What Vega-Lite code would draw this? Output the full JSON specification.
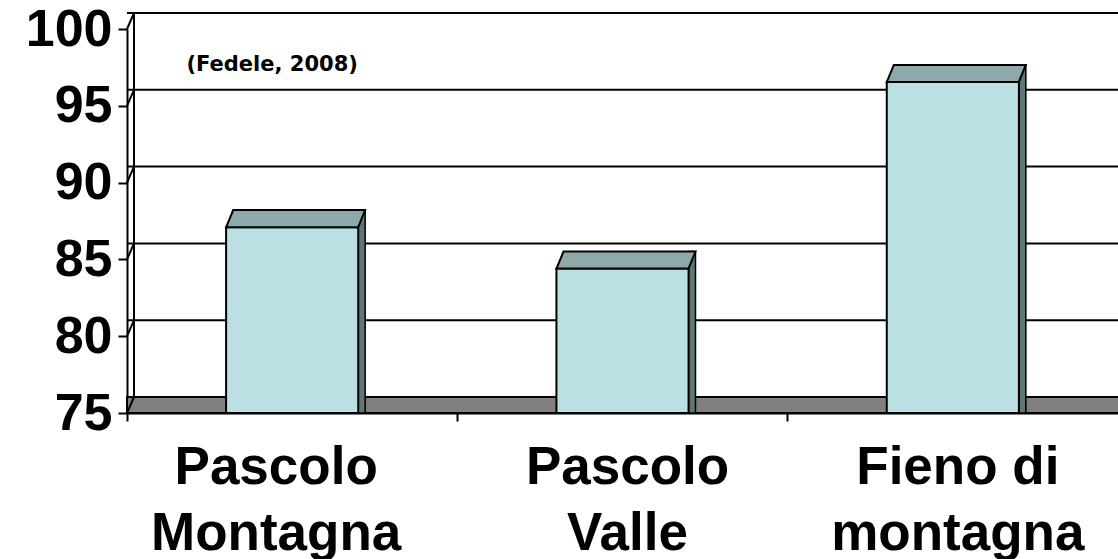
{
  "$schema": "https://vega.github.io/schema/vega-lite/v6.json",
  "width": 991,
  "height": 384,
  "autosize": "none",
  "padding": {"left": 127, "top": 29, "right": 0, "bottom": 146},
  "background": "white",
  "config": {"view": {"stroke": null}},
  "datasets": {
    "bars": [
      {"cat": "Pascolo\nMontagna", "v": 87.1},
      {"cat": "Pascolo\nValle", "v": 84.4},
      {"cat": "Fieno di\nmontagna", "v": 96.55}
    ],
    "grid": [{"g": 75}, {"g": 80}, {"g": 85}, {"g": 90}, {"g": 95}, {"g": 100}],
    "note": [{"cat": "Pascolo\nMontagna", "y": 97.27, "t": "(Fedele, 2008)"}]
  },
  "layer": [
    {
      "data": {"name": "grid"},
      "transform": [{"filter": "datum.g == 75"}],
      "mark": {"type": "bar", "fill": "#808080", "stroke": "black", "strokeWidth": 2, "y2Offset": -16},
      "encoding": {
        "y": {"field": "g", "type": "quantitative", "scale": {"domain": [75, 100], "nice": false, "zero": false}},
        "y2": {"field": "g"},
        "x": {"value": 0},
        "x2": {"value": {"expr": "width + 20"}}
      }
    },
    {
      "data": {"name": "grid"},
      "transform": [{"filter": "datum.g > 75"}],
      "mark": {"type": "rule", "stroke": "black", "strokeWidth": 2, "yOffset": -16, "xOffset": 7},
      "encoding": {
        "y": {"field": "g", "type": "quantitative"}
      }
    },
    {
      "data": {"name": "grid"},
      "mark": {"type": "rule", "stroke": "black", "strokeWidth": 2, "x2Offset": 7, "y2Offset": -16},
      "encoding": {
        "y": {"field": "g", "type": "quantitative"},
        "y2": {"field": "g"},
        "x": {"value": 0},
        "x2": {"value": 0}
      }
    },
    {
      "data": {"name": "grid"},
      "transform": [{"filter": "datum.g == 75"}],
      "mark": {"type": "rule", "stroke": "black", "strokeWidth": 2, "xOffset": 7, "yOffset": -16, "y2Offset": -16},
      "encoding": {
        "y": {"field": "g", "type": "quantitative"},
        "y2": {"datum": 100},
        "x": {"value": 0}
      }
    },
    {
      "data": {"name": "bars"},
      "mark": {"type": "bar", "width": 7, "xOffset": 69.5, "yOffset": -17, "fill": "#5F7677", "stroke": "black", "strokeWidth": 1.5},
      "encoding": {
        "x": {"field": "cat", "type": "nominal", "sort": null,
              "scale": {"paddingInner": 0, "paddingOuter": 0}},
        "y": {"field": "v", "type": "quantitative"},
        "y2": {"datum": 75}
      }
    },
    {
      "data": {"name": "bars"},
      "mark": {"type": "bar", "width": {"band": 0.4}, "fill": "#BBE0E3", "stroke": "black", "strokeWidth": 2},
      "encoding": {
        "x": {"field": "cat", "type": "nominal", "sort": null,
              "axis": {
                "title": null,
                "domainColor": "black", "domainWidth": 2,
                "tickColor": "black", "tickWidth": 2, "tickSize": 8, "bandPosition": 0,
                "labelAngle": 0, "labelAlign": "center",
                "labelFont": "Liberation Sans", "labelFontWeight": "bold", "labelFontSize": 53,
                "labelColor": "black", "labelLineHeight": 66, "labelPadding": 20,
                "labelBaseline": "top",
                "labelOffset": {"condition": {"test": "indexof(datum.value, 'Montagna') >= 0", "value": -16}, "value": 5},
                "labelExpr": "split(datum.value, '\\n')",
                "labelOverlap": false, "labelLimit": 400
              }},
        "y": {"field": "v", "type": "quantitative",
              "axis": {
                "title": null, "values": [75, 80, 85, 90, 95, 100], "grid": false,
                "domainColor": "black", "domainWidth": 2,
                "tickColor": "black", "tickWidth": 2, "tickSize": 9,
                "labelFont": "Liberation Sans", "labelFontWeight": "bold", "labelFontSize": 52,
                "labelColor": "black", "labelPadding": 6
              }},
        "y2": {"datum": 75}
      }
    },
    {
      "data": {"name": "bars"},
      "mark": {"type": "point", "filled": true, "fill": "#8EA9AA", "opacity": 1, "stroke": "black", "strokeWidth": 2,
               "shape": "M -1 0 L 1 0 L 1.106 -0.258 L -0.894 -0.258 Z", "size": 17424},
      "encoding": {
        "x": {"field": "cat", "type": "nominal", "sort": null},
        "y": {"field": "v", "type": "quantitative"}
      }
    },
    {
      "data": {"name": "note"},
      "mark": {"type": "text", "font": "DejaVu Sans", "fontWeight": "bold", "fontSize": 21, "baseline": "alphabetic", "align": "center", "dx": -20, "color": "black"},
      "encoding": {
        "x": {"field": "cat", "type": "nominal", "sort": null},
        "y": {"field": "y", "type": "quantitative"},
        "text": {"field": "t"}
      }
    }
  ]
}
